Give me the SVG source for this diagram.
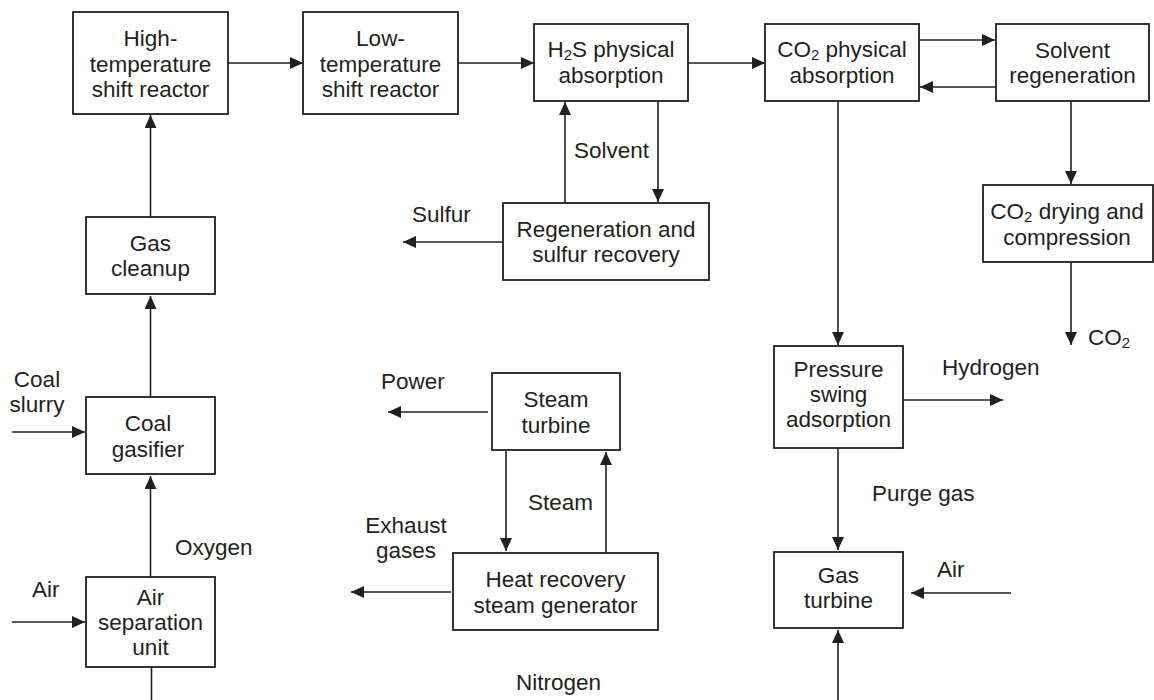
<svg xmlns="http://www.w3.org/2000/svg" width="1154" height="700" viewBox="0 0 1154 700">
  <style>
    .box { fill: #ffffff; stroke: #231f20; stroke-width: 1.8; }
    .flow { fill: none; stroke: #231f20; stroke-width: 1.6; }
    .arrow { marker-end: url(#head); }
    text { font-family: "Liberation Sans", Arial, Helvetica, sans-serif; font-size: 22.5px; fill: #231f20; }
    .c { text-anchor: middle; }
    .sub { font-size: 15px; baseline-shift: -3px; }
  </style>
  <defs>
    <marker id="head" markerUnits="userSpaceOnUse" markerWidth="13" markerHeight="12" refX="13" refY="6" orient="auto">
      <path d="M0,0 L13,6 L0,12 z" fill="#231f20"/>
    </marker>
  </defs>

  <rect width="1154" height="700" fill="#ffffff"/>

  <!-- connectors -->
  <g id="connectors">
    <path class="flow arrow" d="M228,63 H303"/>
    <path class="flow arrow" d="M458,63 H534"/>
    <path class="flow arrow" d="M688,63 H765"/>
    <path class="flow arrow" d="M919,40 H995"/>
    <path class="flow arrow" d="M996,87 H920"/>
    <path class="flow arrow" d="M838,101 V345"/>
    <path class="flow arrow" d="M1071,101 V184"/>
    <path class="flow arrow" d="M1071,262 V345"/>
    <path class="flow arrow" d="M903,400 H1003"/>
    <path class="flow arrow" d="M838,448 V550"/>
    <path class="flow arrow" d="M1011,593 H911"/>
    <path class="flow arrow" d="M838,700 V630"/>
    <path class="flow arrow" d="M658,101 V202"/>
    <path class="flow arrow" d="M565,203 V102"/>
    <path class="flow arrow" d="M503,242 H403"/>
    <path class="flow arrow" d="M150.5,217 V115"/>
    <path class="flow arrow" d="M150.5,397 V296"/>
    <path class="flow arrow" d="M12,432 H85"/>
    <path class="flow arrow" d="M150.5,577 V476"/>
    <path class="flow arrow" d="M12,622 H85"/>
    <path class="flow" d="M151.5,663 V700"/>
    <path class="flow arrow" d="M488,412 H388"/>
    <path class="flow arrow" d="M506,451 V551"/>
    <path class="flow arrow" d="M606,553 V452"/>
    <path class="flow arrow" d="M451,592 H351"/>
  </g>

  <!-- stream labels -->
  <g id="labels">
    <text x="574" y="158">Solvent</text>
    <text x="412" y="222">Sulfur</text>
    <text x="1088" y="345">CO<tspan class="sub">2</tspan></text>
    <text x="942" y="375">Hydrogen</text>
    <text x="872" y="501">Purge gas</text>
    <text x="937" y="577">Air</text>
    <text class="c" x="37" y="387">Coal</text>
    <text class="c" x="37" y="412">slurry</text>
    <text x="32" y="597">Air</text>
    <text x="175" y="555">Oxygen</text>
    <text x="381" y="389">Power</text>
    <text x="528" y="510">Steam</text>
    <text class="c" x="406" y="533">Exhaust</text>
    <text class="c" x="406" y="558">gases</text>
    <text x="516" y="690">Nitrogen</text>
  </g>

  <!-- process units -->
  <g id="ht-shift">
    <rect class="box" x="73" y="12" width="155" height="102"/>
    <text class="c" x="150.5" y="46">High-</text>
    <text class="c" x="150.5" y="71.5">temperature</text>
    <text class="c" x="150.5" y="96.5">shift reactor</text>
  </g>
  <g id="lt-shift">
    <rect class="box" x="303" y="12" width="155" height="102"/>
    <text class="c" x="380.5" y="46">Low-</text>
    <text class="c" x="380.5" y="71.5">temperature</text>
    <text class="c" x="380.5" y="96.5">shift reactor</text>
  </g>
  <g id="h2s-absorption">
    <rect class="box" x="534" y="24" width="154" height="77"/>
    <text class="c" x="611" y="57">H<tspan class="sub">2</tspan>S physical</text>
    <text class="c" x="611" y="83">absorption</text>
  </g>
  <g id="co2-absorption">
    <rect class="box" x="765" y="24" width="154" height="77"/>
    <text class="c" x="842" y="57">CO<tspan class="sub">2</tspan> physical</text>
    <text class="c" x="842" y="83">absorption</text>
  </g>
  <g id="solvent-regeneration">
    <rect class="box" x="996" y="24" width="153" height="77"/>
    <text class="c" x="1072.5" y="58">Solvent</text>
    <text class="c" x="1072.5" y="83">regeneration</text>
  </g>
  <g id="co2-compression">
    <rect class="box" x="983" y="185" width="170" height="77"/>
    <text class="c" x="1067" y="219">CO<tspan class="sub">2</tspan> drying and</text>
    <text class="c" x="1067" y="245">compression</text>
  </g>
  <g id="sulfur-recovery">
    <rect class="box" x="503" y="203" width="206" height="77"/>
    <text class="c" x="606" y="237">Regeneration and</text>
    <text class="c" x="606" y="262">sulfur recovery</text>
  </g>
  <g id="gas-cleanup">
    <rect class="box" x="86" y="217" width="129" height="77"/>
    <text class="c" x="150.5" y="251">Gas</text>
    <text class="c" x="150.5" y="276">cleanup</text>
  </g>
  <g id="coal-gasifier">
    <rect class="box" x="86" y="397" width="129" height="77"/>
    <text class="c" x="148" y="431">Coal</text>
    <text class="c" x="148" y="457">gasifier</text>
  </g>
  <g id="air-separation">
    <rect class="box" x="86" y="577" width="129" height="90"/>
    <text class="c" x="150.5" y="605">Air</text>
    <text class="c" x="150.5" y="630">separation</text>
    <text class="c" x="150.5" y="655">unit</text>
  </g>
  <g id="steam-turbine">
    <rect class="box" x="492" y="373" width="128" height="77"/>
    <text class="c" x="556" y="407">Steam</text>
    <text class="c" x="556" y="433">turbine</text>
  </g>
  <g id="hrsg">
    <rect class="box" x="453" y="553" width="205" height="77"/>
    <text class="c" x="555.5" y="587">Heat recovery</text>
    <text class="c" x="555.5" y="613">steam generator</text>
  </g>
  <g id="psa">
    <rect class="box" x="774" y="346" width="129" height="102"/>
    <text class="c" x="838.5" y="377">Pressure</text>
    <text class="c" x="838.5" y="402">swing</text>
    <text class="c" x="838.5" y="427">adsorption</text>
  </g>
  <g id="gas-turbine">
    <rect class="box" x="774" y="552" width="129" height="76"/>
    <text class="c" x="838.5" y="583">Gas</text>
    <text class="c" x="838.5" y="608">turbine</text>
  </g>
</svg>
